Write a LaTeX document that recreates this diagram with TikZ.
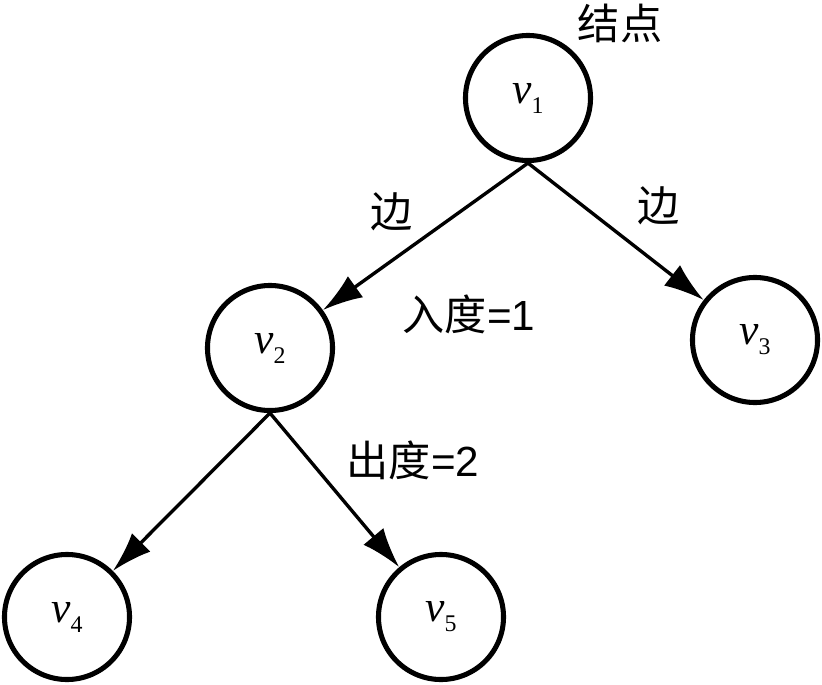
\documentclass[tikz,border=0pt]{standalone}
\usepackage{fontspec}
\setmainfont{Liberation Serif}
\newfontfamily\cjk{Noto Sans CJK SC}
\newfontfamily\digits{Liberation Sans}
\usetikzlibrary{arrows.meta}

\newcommand{\vname}[1]{\textit{v}\raisebox{-0.5ex}{\fontsize{17}{17}\selectfont #1}}
\newcommand{\degtext}[2]{{\cjk #1}{\digits #2}}

\tikzset{
  vertex/.style={circle, draw, line width=3.6pt, minimum size=3.125cm, inner sep=0pt, font=\fontsize{31}{32}\selectfont},
  link/.style={-{Latex[length=1cm, width=0.65cm]}, line width=2.4pt},
  tag/.style={font=\fontsize{30}{36}\selectfont, inner sep=0pt}
}

\begin{document}
\begin{tikzpicture}[x=0.025cm, y=-0.025cm]
\useasboundingbox (0,0) rectangle (822,684);

\node[vertex] (v1) at (528, 98) {\vname{1}};
\node[vertex] (v2) at (270, 348) {\vname{2}};
\node[vertex] (v3) at (755, 340) {\vname{3}};
\node[vertex] (v4) at (67, 617) {\vname{4}};
\node[vertex] (v5) at (441, 617) {\vname{5}};

\node[tag] (knot) at (620, 23) {\cjk 结点};
\node[tag] (indeg) at (469, 314) {\degtext{入度}{=1}};
\node[tag] (outdeg) at (413, 460) {\degtext{出度}{=2}};

\draw[link] (v1.south) -- (v2) node[tag, pos=0.52, above left=5pt] {\cjk 边};
\draw[link] (v1.south) -- (v3) node[tag, pos=0.55, above right=8pt] {\cjk 边};
\draw[link] (v2.south) -- (v4);
\draw[link] (v2.south) -- (v5);

\end{tikzpicture}
\end{document}
